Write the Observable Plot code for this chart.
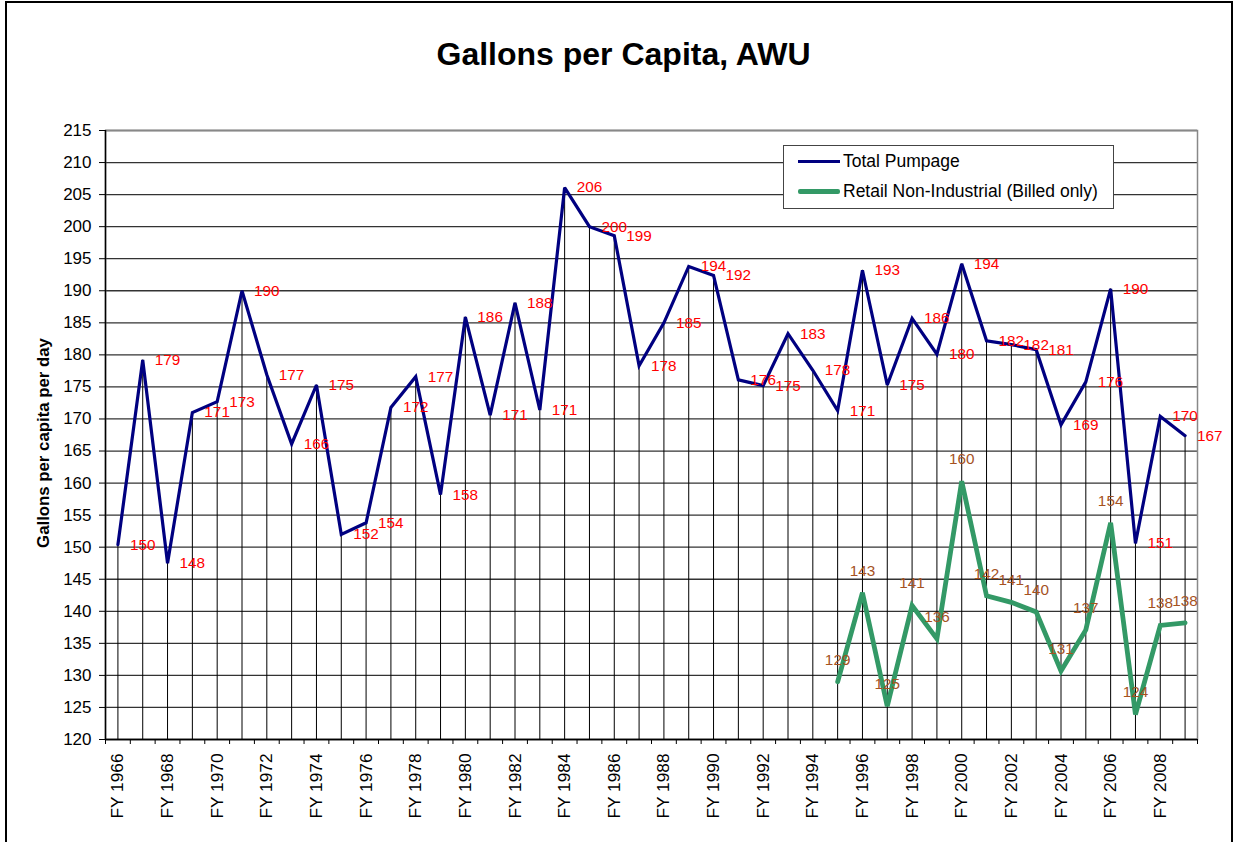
<!DOCTYPE html>
<html>
<head>
<meta charset="utf-8">
<script src="https://cdn.jsdelivr.net/npm/d3@7"></script>
<script src="https://cdn.jsdelivr.net/npm/@observablehq/plot@0.6"></script>
<style>
  html, body { margin: 0; padding: 0; background: #fff; overflow: hidden; }
  body { font-family: "Liberation Sans", Arial, sans-serif; }
  #wrap { position: relative; width: 1233px; height: 842px; overflow: hidden; }
  #border { position: absolute; left: 5px; top: 1px; width: 1228px; height: 900px; border: 2px solid #000; box-sizing: border-box; }
  #title { position: absolute; left: 0; top: 38px; width: 1247px; text-align: center; font-size: 32px; line-height: 32px; font-weight: bold; color: #000; }
  #chart { position: absolute; left: 0; top: 0; }
  #legend { position: absolute; left: 783px; top: 145px; width: 331px; height: 64px; border: 1px solid #444; background: #fff; box-sizing: border-box; }
  .lg-line { position: absolute; left: 14px; width: 42px; }
  .lg-text { position: absolute; left: 59px; font-size: 17.5px; line-height: 20px; color: #000; white-space: nowrap; }
</style>
</head>
<body>
<div id="wrap">
  <div id="chart"></div>
  <div id="border"></div>
  <div id="title">Gallons per Capita, AWU</div>
  <div id="legend">
    <div class="lg-line" style="top:13.5px;height:3px;background:#000080;"></div>
    <div class="lg-text" style="top:5px;">Total Pumpage</div>
    <div class="lg-line" style="top:43px;height:4.5px;background:#339966;border-radius:2px;"></div>
    <div class="lg-text" style="top:35px;">Retail Non-Industrial (Billed only)</div>
  </div>
</div>
<script>
const years = [1966,1967,1968,1969,1970,1971,1972,1973,1974,1975,1976,1977,1978,1979,1980,1981,1982,1983,1984,1985,1986,1987,1988,1989,1990,1991,1992,1993,1994,1995,1996,1997,1998,1999,2000,2001,2002,2003,2004,2005,2006,2007,2008,2009];
const totalPumpage = [150.4,179.2,147.5,171.0,172.7,190.0,176.9,166.1,175.3,152.0,153.8,171.8,176.6,158.2,185.9,170.6,188.1,171.4,206.1,200.0,198.6,178.3,185.0,193.8,192.4,176.1,175.2,183.3,177.6,171.3,193.2,175.3,185.7,180.1,194.2,182.2,181.6,180.8,169.1,175.8,190.3,150.6,170.4,167.4];
const retailYears = [1995,1996,1997,1998,1999,2000,2001,2002,2003,2004,2005,2006,2007,2008,2009];
const retailNonIndustrial = [129.0,142.9,125.2,140.9,135.7,160.3,142.4,141.4,139.9,130.7,137.1,153.8,123.9,137.8,138.2];
const yTicks = [120,125,130,135,140,145,150,155,160,165,170,175,180,185,190,195,200,205,210,215];
const xLabelYears = [1966,1968,1970,1972,1974,1976,1978,1980,1982,1984,1986,1988,1990,1992,1994,1996,1998,2000,2002,2004,2006,2008];
const xBoundaries = [...years.map(y => y - 0.5), years[years.length - 1] + 0.5];

const total = years.map((year, i) => ({year, value: totalPumpage[i]}));
const retail = retailYears.map((year, i) => ({year, value: retailNonIndustrial[i]}));

const font = '"Liberation Sans", Arial, sans-serif';

const chart = Plot.plot({
  width: 1233,
  height: 842,
  marginLeft: 105,
  marginRight: 36,
  marginTop: 130,
  marginBottom: 103,
  style: {fontFamily: font, background: "transparent", overflow: "visible"},
  x: {type: "linear", domain: [xBoundaries[0], xBoundaries[xBoundaries.length - 1]], axis: null},
  y: {domain: [120, 215], axis: null},
  marks: [
    Plot.gridY({ticks: yTicks, stroke: "#333", strokeOpacity: 1, strokeWidth: 1.3}),
    Plot.frame({stroke: "#888", strokeWidth: 1.5}),
    Plot.ruleX(total, {x: "year", y1: 120, y2: "value", stroke: "#000", strokeWidth: 1}),
    Plot.ruleY([120], {stroke: "#000", strokeWidth: 1.5}),
    Plot.ruleX([xBoundaries[0]], {stroke: "#000", strokeWidth: 1.5}),
    Plot.axisY({ticks: yTicks, tickSize: 6, tickPadding: 8, fontSize: 17, color: "#000", label: null}),
    Plot.axisX({ticks: xBoundaries, tickSize: 5, tickFormat: () => "", label: null}),
    Plot.text(xLabelYears, {x: d => d, y: 120, text: d => "FY " + d, rotate: -90, textAnchor: "end", lineAnchor: "middle", dy: 14, fontSize: 17.3, fill: "#000"}),
    Plot.text(["Gallons per capita per day"], {frameAnchor: "left", text: d => d, rotate: -90, textAnchor: "middle", dx: -62, dy: 8, fontSize: 16.8, fontWeight: "bold", fill: "#000"}),
    Plot.line(total, {x: "year", y: "value", stroke: "#000080", strokeWidth: 3.2, strokeLinejoin: "miter", strokeMiterlimit: 3}),
    Plot.line(retail, {x: "year", y: "value", stroke: "#339966", strokeWidth: 4.8, strokeLinejoin: "miter", strokeMiterlimit: 3}),
    Plot.text(total, {x: "year", y: "value", text: d => String(Math.round(d.value)), dx: 12, textAnchor: "start", fill: "#ff0000", fontSize: 15.3}),
    Plot.text(retail, {x: "year", y: "value", text: d => String(Math.round(d.value)), dy: -22, fill: "#a5521f", fontSize: 15.3})
  ]
});
document.getElementById("chart").appendChild(chart);
</script>
</body>
</html>
